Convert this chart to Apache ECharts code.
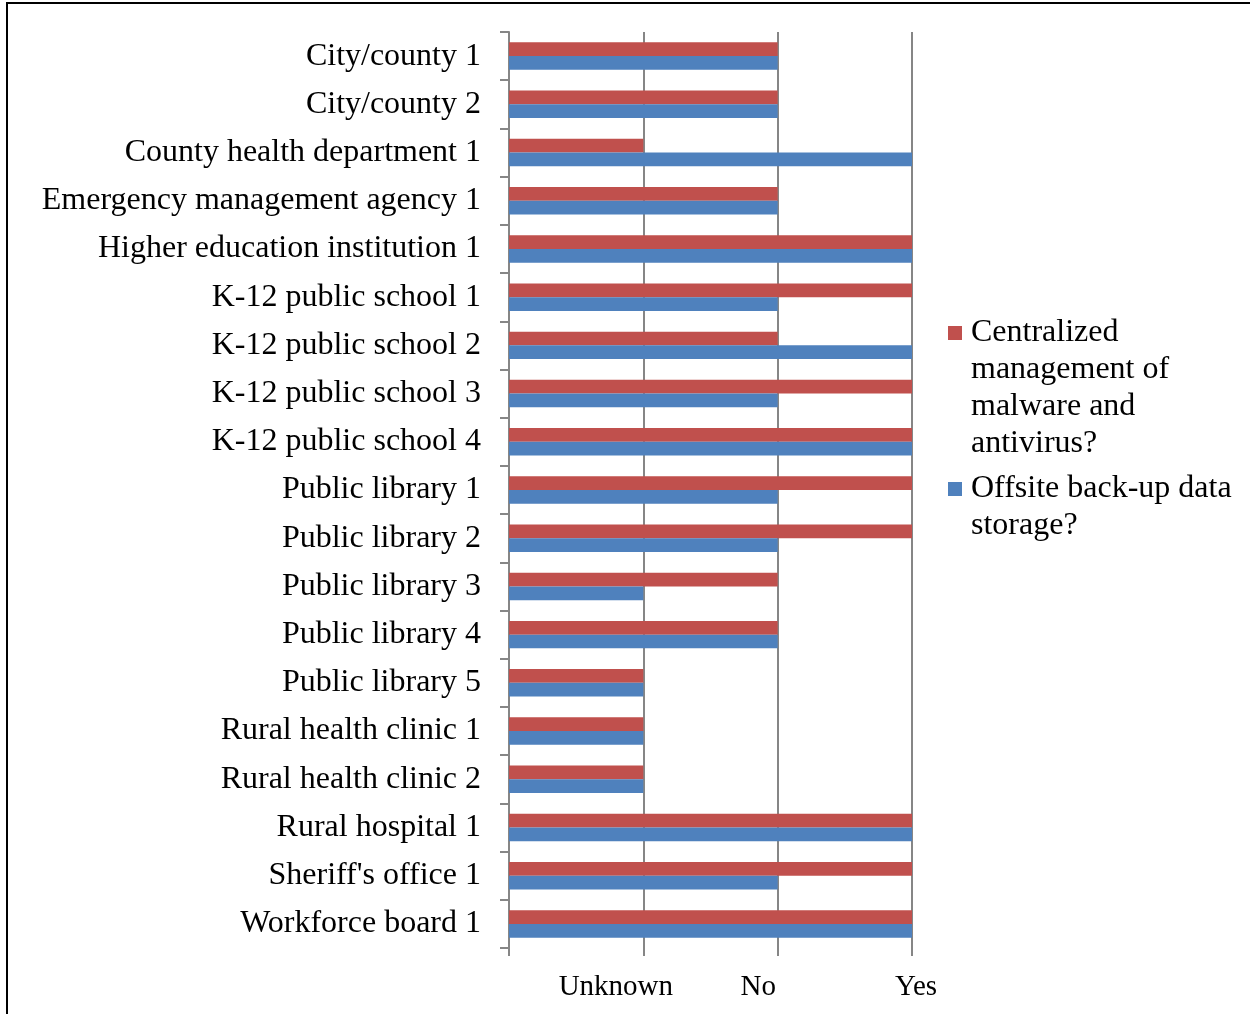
<!DOCTYPE html>
<html>
<head>
<meta charset="utf-8">
<title>Security practices by organization</title>
<script src="https://cdn.jsdelivr.net/npm/echarts@6/dist/echarts.min.js"></script>
<style>
  html, body { margin: 0; padding: 0; background: #fff; }
  #frame {
    position: absolute; left: 6px; top: 2px; width: 1260px; height: 1030px;
    border-top: 2.5px solid #000; border-left: 2.5px solid #000; box-sizing: border-box;
  }
  #chart { position: absolute; left: 0; top: 0; width: 1250px; height: 1014px; }
</style>
</head>
<body>
<div id="frame"></div>
<div id="chart"></div>
<script>
// Organizations, listed top to bottom
const categories = [
  'City/county 1', 'City/county 2', 'County health department 1',
  'Emergency management agency 1', 'Higher education institution 1',
  'K-12 public school 1', 'K-12 public school 2', 'K-12 public school 3',
  'K-12 public school 4', 'Public library 1', 'Public library 2',
  'Public library 3', 'Public library 4', 'Public library 5',
  'Rural health clinic 1', 'Rural health clinic 2', 'Rural hospital 1',
  "Sheriff's office 1", 'Workforce board 1'
];

// Answer scale: 1 = Unknown, 2 = No, 3 = Yes
const answerLabels = ['', 'Unknown', 'No', 'Yes'];

const seriesNames = [
  'Centralized\nmanagement of\nmalware and\nantivirus?',
  'Offsite back-up data\nstorage?'
];

const centralizedMalware = [2, 2, 1, 2, 3, 3, 2, 3, 3, 3, 3, 2, 2, 1, 1, 1, 3, 3, 3];
const offsiteBackup      = [2, 2, 3, 2, 3, 2, 3, 2, 3, 2, 2, 1, 2, 1, 1, 1, 3, 2, 3];

const FONT = '"Liberation Serif", "Times New Roman", serif';
const AXIS_GRAY = '#868686';

// Legend marker: a square sitting on the first text line of a multi-line entry
function markerPath(blockHeight) {
  const top = 11.5;
  return 'path://M0,0 M0,' + top + ' H14 V' + (top + 14) + ' H0 Z M14,' + blockHeight;
}

const legendText = { fontFamily: FONT, fontSize: 32, color: '#000', lineHeight: 37, padding: [0, 0, 0, 4] };

const chart = echarts.init(document.getElementById('chart'), null, { renderer: 'canvas' });

chart.setOption({
  animation: false,
  backgroundColor: 'transparent',
  grid: { left: 509, right: 338, top: 32, bottom: 66, containLabel: false },
  legend: [
    {
      data: [{ name: seriesNames[0], icon: markerPath(148) }],
      orient: 'vertical', left: 948, top: 314.5,
      itemWidth: 14, itemHeight: 148, itemGap: 0, padding: 0,
      selectedMode: false,
      textStyle: legendText
    },
    {
      data: [{ name: seriesNames[1], icon: markerPath(74) }],
      orient: 'vertical', left: 948, top: 470.5,
      itemWidth: 14, itemHeight: 74, itemGap: 0, padding: 0,
      selectedMode: false,
      textStyle: legendText
    }
  ],
  xAxis: {
    type: 'value', min: 0, max: 3, interval: 1,
    axisLine: { show: false },
    axisTick: { show: true, length: 8, lineStyle: { color: AXIS_GRAY, width: 2 } },
    splitLine: { show: true, lineStyle: { color: AXIS_GRAY, width: 2 } },
    axisLabel: {
      margin: 24.5,
      fontFamily: FONT, fontSize: 29, color: '#000',
      formatter: function (v) {
        const t = answerLabels[v] || '';
        return t ? '{a' + v + '|' + t + '}' : '';
      },
      rich: {
        a1: { fontFamily: FONT, fontSize: 29, color: '#000', padding: [0, 55, 0, 0] },
        a2: { fontFamily: FONT, fontSize: 29, color: '#000', padding: [0, 39, 0, 0] },
        a3: { fontFamily: FONT, fontSize: 29, color: '#000', padding: [0, 0, 0, 8] }
      }
    }
  },
  yAxis: {
    type: 'category', data: categories, inverse: true,
    axisLine: { show: true, lineStyle: { color: AXIS_GRAY, width: 2 } },
    axisTick: { show: true, length: 9, alignWithLabel: false, lineStyle: { color: AXIS_GRAY, width: 2 } },
    axisLabel: { margin: 28, fontFamily: FONT, fontSize: 32, color: '#000', padding: [4, 0, 0, 0] },
    splitLine: { show: false }
  },
  series: [
    {
      name: seriesNames[0], type: 'bar', data: centralizedMalware,
      barGap: '0%', barCategoryGap: '43%',
      itemStyle: { color: '#C0504D' }
    },
    {
      name: seriesNames[1], type: 'bar', data: offsiteBackup,
      barGap: '0%', barCategoryGap: '43%',
      itemStyle: { color: '#4F81BD' }
    }
  ]
});
</script>
</body>
</html>
